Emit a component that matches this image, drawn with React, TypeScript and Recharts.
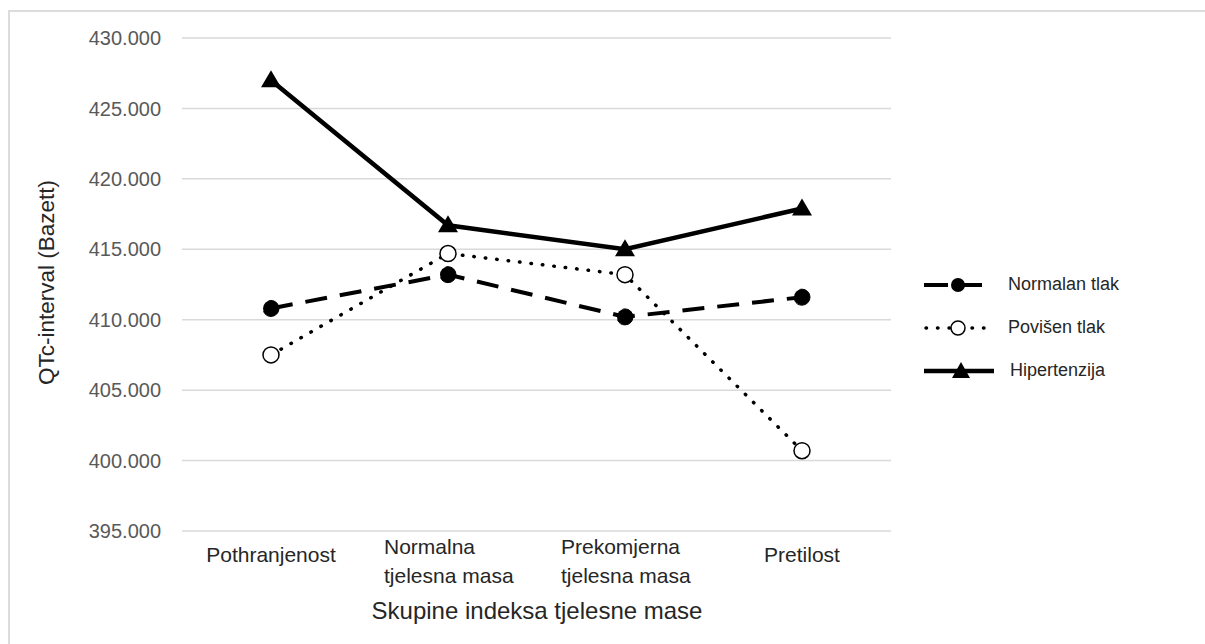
import React from "react";
import { CartesianGrid, Line, LineChart, XAxis, YAxis } from "recharts";

const categories = ["Pothranjenost", "Normalna\ntjelesna masa", "Prekomjerna\ntjelesna masa", "Pretilost"];
const normalanTlak = [410.8, 413.2, 410.2, 411.6];
const povisenTlak = [407.5, 414.7, 413.2, 400.7];
const hipertenzija = [427.0, 416.7, 415.0, 417.9];
const yTicks = [395, 400, 405, 410, 415, 420, 425, 430];

const seriesNames = ["Normalan tlak", "Povišen tlak", "Hipertenzija"];

const data = categories.map((name, i) => ({
  name,
  normalan: normalanTlak[i],
  povisen: povisenTlak[i],
  hipertenzija: hipertenzija[i],
}));

const FONT = '"Liberation Sans", Arial, sans-serif';

function Triangle({ cx, cy }: { cx?: number; cy?: number }) {
  if (cx == null || cy == null) return null;
  return <polygon points={`${cx},${cy - 10} ${cx - 10},${cy + 7} ${cx + 10},${cy + 7}`} fill="#000" />;
}

function CategoryTick({ x, y, payload }: any) {
  const lines = String(payload.value).split("\n");
  if (lines.length === 1) {
    return (
      <text x={x} y={y + 23} textAnchor="middle" fontSize={21} fill="#262626" fontFamily={FONT}>
        {lines[0]}
      </text>
    );
  }
  const left = x - 64;
  return (
    <text x={left} y={y + 15} textAnchor="start" fontSize={21} fill="#262626" fontFamily={FONT}>
      {lines.map((l, i) => (
        <tspan key={i} x={left} dy={i === 0 ? 0 : 29}>
          {l}
        </tspan>
      ))}
    </text>
  );
}

function LegendIcon({ kind }: { kind: number }) {
  if (kind === 0) {
    return (
      <svg width={70} height={20}>
        <line x1={2} y1={10} x2={68} y2={10} stroke="#000" strokeWidth={4} strokeDasharray="24 10" />
        <circle cx={36} cy={10} r={7} fill="#000" />
      </svg>
    );
  }
  if (kind === 1) {
    return (
      <svg width={70} height={20}>
        <line x1={4} y1={10} x2={68} y2={10} stroke="#000" strokeWidth={3.5} strokeDasharray="0.5 11" strokeLinecap="round" />
        <circle cx={36} cy={10} r={7} fill="#fff" stroke="#000" strokeWidth={1.5} />
      </svg>
    );
  }
  return (
    <svg width={72} height={20}>
      <line x1={2} y1={10} x2={72} y2={10} stroke="#000" strokeWidth={4.5} />
      <polygon points="39,1 30,17 48,17" fill="#000" />
    </svg>
  );
}

function ChartLegend() {
  return (
    <div style={{ position: "absolute", left: 922, top: 263, fontFamily: FONT }}>
      {seriesNames.map((name, i) => (
        <div key={name} style={{ display: "flex", alignItems: "center", height: 43 }}>
          <LegendIcon kind={i} />
          <span style={{ marginLeft: 16, fontSize: 18, color: "#262626" }}>{name}</span>
        </div>
      ))}
    </div>
  );
}

export default function App() {
  return (
    <div style={{ position: "absolute", left: 0, top: 0, width: 1205, height: 644, background: "#fff" }}>
      <div
        style={{
          position: "absolute",
          left: 8,
          top: 10,
          right: 0,
          bottom: 0,
          borderTop: "2px solid #dcdcdc",
          borderLeft: "2px solid #dcdcdc",
        }}
      />
      <div style={{ position: "absolute", left: 0, top: 0 }}>
        <LineChart width={1205} height={644} data={data} margin={{ top: 38, right: 314, bottom: 0, left: 1 }}>
          <CartesianGrid horizontal vertical={false} stroke="#d9d9d9" strokeWidth={1.5} />
          <XAxis
            dataKey="name"
            axisLine={false}
            tickLine={false}
            height={113}
            interval={0}
            padding={{ left: 89, right: 89 }}
            tick={<CategoryTick />}
            label={{
              content: () => (
                <text x={537} y={619} textAnchor="middle" fontSize={24} fill="#262626" fontFamily={FONT}>
                  Skupine indeksa tjelesne mase
                </text>
              ),
            }}
          />
          <YAxis
            width={181}
            domain={[395, 430]}
            ticks={yTicks}
            axisLine={false}
            tickLine={false}
            tickMargin={15}
            tickFormatter={(v: number) => v.toFixed(3)}
            tick={{ fontSize: 20, fill: "#595959", fontFamily: FONT }}
            label={{
              content: ({ viewBox }: any) => {
                const cy = viewBox.y + viewBox.height / 2;
                return (
                  <text
                    x={46}
                    y={cy - 2}
                    transform={`rotate(-90, 46, ${cy - 2})`}
                    textAnchor="middle"
                    dominantBaseline="central"
                    fontSize={22.5}
                    fill="#262626"
                    fontFamily={FONT}
                  >
                    QTc-interval (Bazett)
                  </text>
                );
              },
            }}
          />
          <Line
            dataKey="normalan"
            name={seriesNames[0]}
            stroke="#000"
            strokeWidth={4}
            strokeDasharray="22 13"
            dot={{ r: 8, fill: "#000", stroke: "#000", strokeWidth: 1 }}
            isAnimationActive={false}
          />
          <Line
            dataKey="povisen"
            name={seriesNames[1]}
            stroke="#000"
            strokeWidth={3.5}
            strokeDasharray="0.5 11"
            strokeLinecap="round"
            dot={{ r: 8, fill: "#fff", stroke: "#000", strokeWidth: 1.5, strokeDasharray: "0" }}
            isAnimationActive={false}
          />
          <Line
            dataKey="hipertenzija"
            name={seriesNames[2]}
            stroke="#000"
            strokeWidth={4.5}
            dot={(p: any) => <Triangle key={p.index} cx={p.cx} cy={p.cy} />}
            isAnimationActive={false}
          />
        </LineChart>
      </div>
      <ChartLegend />
    </div>
  );
}
